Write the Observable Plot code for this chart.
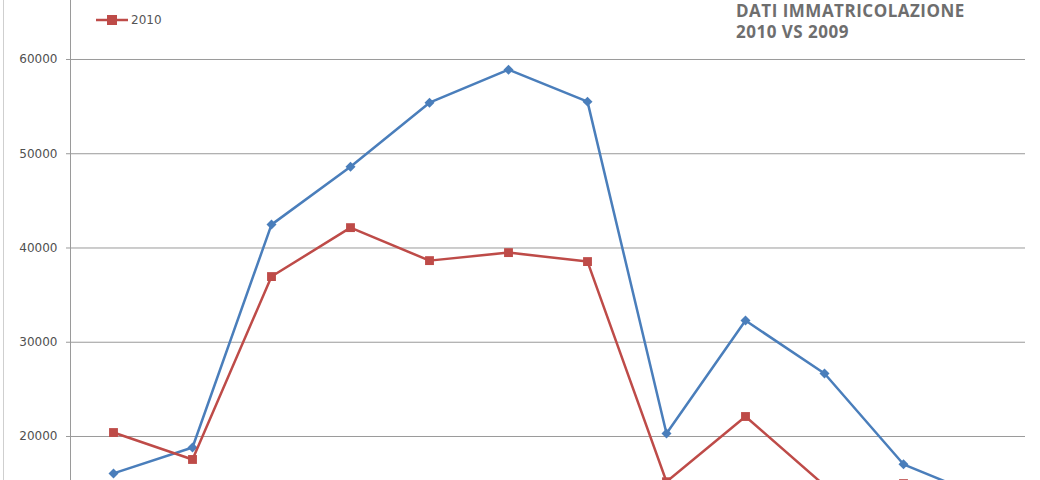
<!DOCTYPE html>
<html>
<head>
<meta charset="utf-8">
<script src="https://cdn.jsdelivr.net/npm/d3@7"></script>
<script src="https://cdn.jsdelivr.net/npm/@observablehq/plot@0.6"></script>
<style>
  html, body { margin: 0; padding: 0; background: #fff; }
  #wrap { position: relative; width: 1040px; height: 480px; overflow: hidden; font-family: "DejaVu Sans", sans-serif; }
  #border { position: absolute; left: 3px; top: 0; width: 0; height: 480px; border-left: 1px solid #cfcfcf; }
  .title { position: absolute; left: 736px; font-family: "Open Sans", "Liberation Sans", sans-serif; font-weight: 700; font-size: 17px; line-height: 20px; height: 20px; color: #6e6e6e; letter-spacing: 0.5px; z-index: 2; white-space: nowrap; }
  #t1 { top: 1px; }
  #t2 { top: 22px; }
  #legend { position: absolute; left: 96px; top: 13px; font-size: 12px; color: #555; display: flex; align-items: center; gap: 3px; z-index: 2; }
</style>
</head>
<body>
<div id="wrap">
  <div id="border"></div>
  <div class="title" id="t1">DATI IMMATRICOLAZIONE</div>
  <div class="title" id="t2">2010 VS 2009</div>
  <div id="legend"><svg width="32" height="12"><line x1="0" y1="6" x2="32" y2="6" stroke="#be4b48" stroke-width="2.5"/><rect x="11" y="1" width="10" height="10" fill="#be4b48"/></svg><span>2010</span></div>
</div>
<script>
const months = ["Gen","Feb","Mar","Apr","Mag","Giu","Lug","Ago","Set","Ott","Nov","Dic"];
const values2009 = [16080, 18830, 42480, 48630, 55420, 58920, 55530, 20320, 32300, 26680, 17050, 13600];
const values2010 = [20420, 17560, 36970, 42160, 38660, 39510, 38560, 15200, 22120, 14800, 15000, 12000];
const yTicks = [20000, 30000, 40000, 50000, 60000];

const s2009 = months.map((m, i) => ({month: m, value: values2009[i]}));
const s2010 = months.map((m, i) => ({month: m, value: values2010[i]}));

const blue = "#4a7ebb", red = "#be4b48";

const chart = Plot.plot({
  width: 1040,
  height: 480,
  marginLeft: 70,
  marginRight: 15,
  marginTop: 0,
  marginBottom: 0,
  style: {background: "transparent", fontFamily: "DejaVu Sans, sans-serif", fontSize: "12px", color: "#505050"},
  x: {type: "point", domain: months, padding: 0.5, axis: null},
  y: {domain: [15330, 66260], label: null},
  marks: [
    Plot.gridY(yTicks, {stroke: "#9a9a9a", strokeOpacity: 1, strokeWidth: 1}),
    Plot.axisY(yTicks, {tickSize: 4, tickPadding: 9, stroke: "#9a9a9a", fill: "#505050", label: null, tickFormat: d => String(d)}),
    Plot.frame({anchor: "left", stroke: "#9a9a9a"}),
    Plot.line(s2009, {x: "month", y: "value", stroke: blue, strokeWidth: 2.5, clip: true}),
    Plot.dot(s2009, {x: "month", y: "value", fill: blue, symbol: "diamond2", r: 4.5, clip: true}),
    Plot.line(s2010, {x: "month", y: "value", stroke: red, strokeWidth: 2.5, clip: true}),
    Plot.dot(s2010, {x: "month", y: "value", fill: red, symbol: "square", r: 5, clip: true})
  ]
});
chart.style.position = "absolute";
chart.style.left = "0";
chart.style.top = "0";
document.getElementById("wrap").appendChild(chart);
</script>
</body>
</html>
